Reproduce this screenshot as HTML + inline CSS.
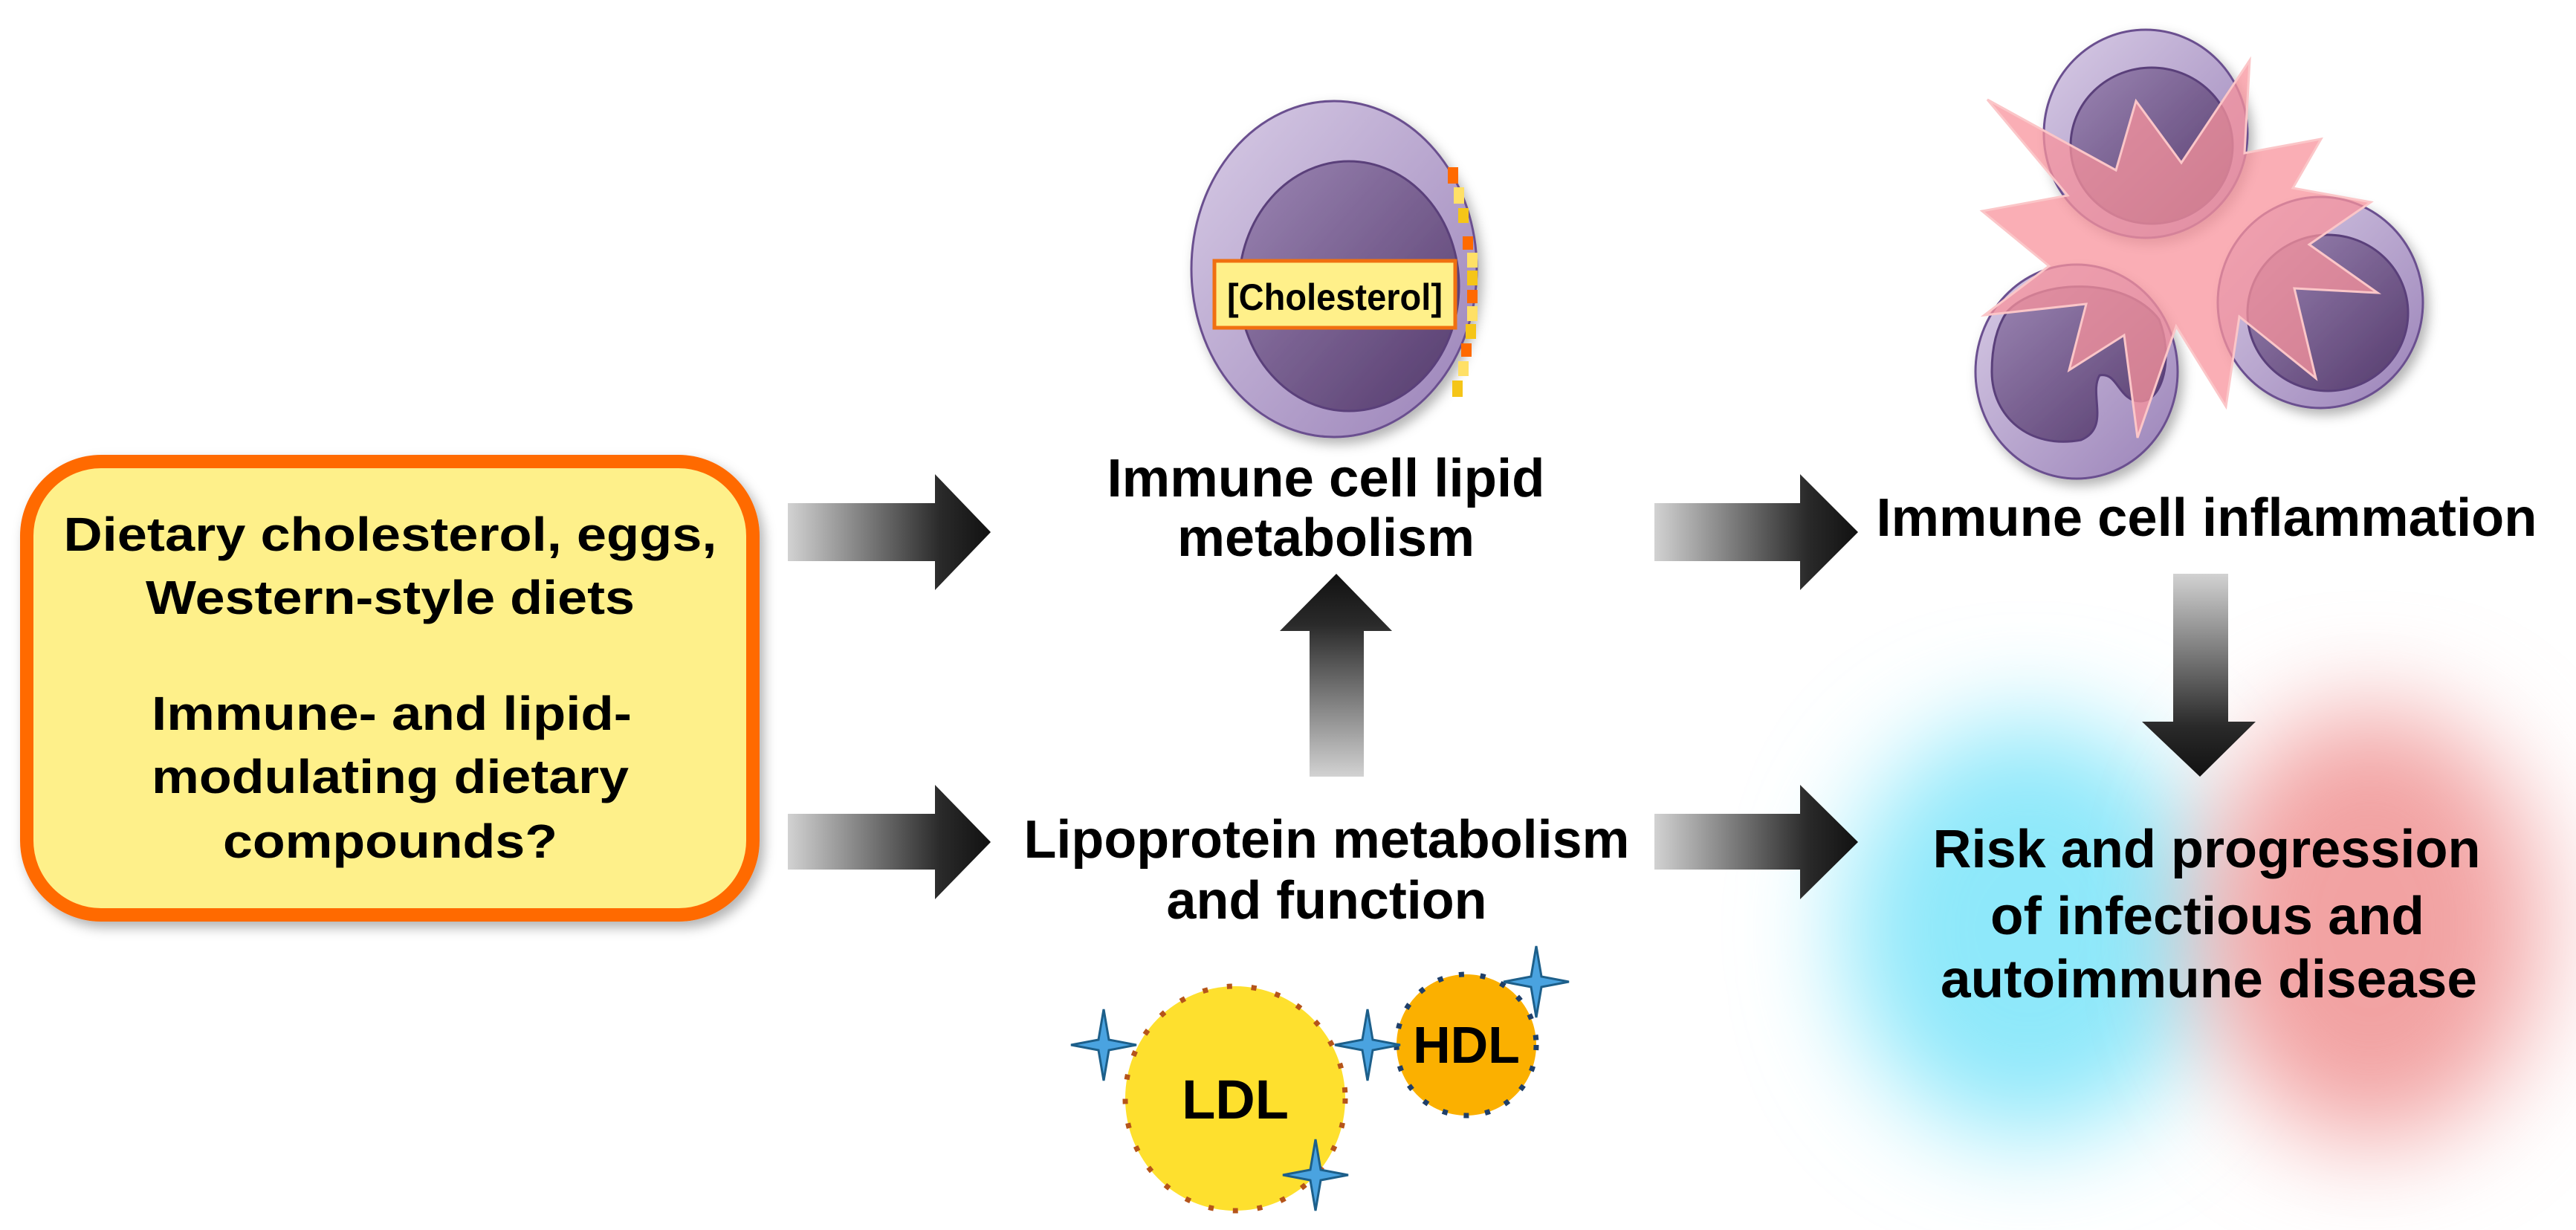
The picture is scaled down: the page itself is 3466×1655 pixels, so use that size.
<!DOCTYPE html>
<html><head><meta charset="utf-8"><style>html,body{margin:0;padding:0;background:#fff}svg{display:block}</style></head>
<body>
<svg width="3466" height="1655" viewBox="0 0 3466 1655" xmlns="http://www.w3.org/2000/svg" font-family="'Liberation Sans', Arial, sans-serif" font-weight="bold">
<defs>
<linearGradient id="gh" x1="0" y1="0" x2="1" y2="0"><stop offset="0" stop-color="#d2d2d2"/><stop offset="0.75" stop-color="#2a2a2a"/><stop offset="1" stop-color="#111"/></linearGradient>
<linearGradient id="gu" x1="0" y1="1" x2="0" y2="0"><stop offset="0" stop-color="#d2d2d2"/><stop offset="0.75" stop-color="#2a2a2a"/><stop offset="1" stop-color="#111"/></linearGradient>
<linearGradient id="gd" x1="0" y1="0" x2="0" y2="1"><stop offset="0" stop-color="#d2d2d2"/><stop offset="0.75" stop-color="#2a2a2a"/><stop offset="1" stop-color="#111"/></linearGradient>
<linearGradient id="cellO" x1="0" y1="0" x2="1" y2="1"><stop offset="0" stop-color="#d8cce6"/><stop offset="1" stop-color="#9a82b8"/></linearGradient>
<linearGradient id="cellN" x1="0" y1="0" x2="1" y2="1"><stop offset="0" stop-color="#9c86b4"/><stop offset="1" stop-color="#543a6c"/></linearGradient>
<filter id="blur" x="-60%" y="-60%" width="220%" height="220%"><feGaussianBlur stdDeviation="70"/></filter>
<filter id="sh" x="-10%" y="-10%" width="120%" height="120%"><feDropShadow dx="6" dy="8" stdDeviation="8" flood-color="#000" flood-opacity="0.3"/></filter>
<path id="star" d="M0,-48 L7,-7 L44,0 L7,7 L0,48 L-7,7 L-44,0 L-7,-7 Z" fill="#4aa3e0" stroke="#1d5f8a" stroke-width="3"/>
</defs>

<!-- blurred blobs -->
<ellipse cx="2730" cy="1250" rx="250" ry="280" fill="#8ee8fa" filter="url(#blur)"/>
<ellipse cx="3190" cy="1245" rx="230" ry="290" fill="#f2a2a2" filter="url(#blur)"/>

<!-- yellow box -->
<rect x="36" y="621" width="977" height="610" rx="100" ry="100" fill="#fef08a" stroke="#ff6a00" stroke-width="18" filter="url(#sh)"/>
<g font-size="64" text-anchor="middle" fill="#000">
<text x="525" y="741" textLength="879" lengthAdjust="spacingAndGlyphs">Dietary cholesterol, eggs,</text>
<text x="525" y="826" textLength="658" lengthAdjust="spacingAndGlyphs">Western-style diets</text>
<text x="527" y="982" textLength="646" lengthAdjust="spacingAndGlyphs">Immune- and lipid-</text>
<text x="525" y="1067" textLength="642" lengthAdjust="spacingAndGlyphs">modulating dietary</text>
<text x="525" y="1154" textLength="450" lengthAdjust="spacingAndGlyphs">compounds?</text>
</g>

<!-- arrows -->
<g>
<polygon points="1060,677 1258,677 1258,638 1333,716 1258,794 1258,755 1060,755" fill="url(#gh)"/>
<polygon points="1060,1095 1258,1095 1258,1056 1333,1133 1258,1210 1258,1170 1060,1170" fill="url(#gh)"/>
<polygon points="2226,677 2422,677 2422,638 2500,716 2422,794 2422,755 2226,755" fill="url(#gh)"/>
<polygon points="2226,1095 2422,1095 2422,1056 2500,1133 2422,1210 2422,1170 2226,1170" fill="url(#gh)"/>
<polygon points="1762,1045 1762,849 1722,849 1798,772 1873,849 1835,849 1835,1045" fill="url(#gu)"/>
<polygon points="2924,772 2998,772 2998,971 3035,971 2960,1045 2882,971 2924,971" fill="url(#gd)"/>
</g>

<!-- labels -->
<g font-size="72" text-anchor="middle" fill="#000">
<text x="1784" y="668" textLength="589" lengthAdjust="spacingAndGlyphs">Immune cell lipid</text>
<text x="1784" y="748" textLength="400" lengthAdjust="spacingAndGlyphs">metabolism</text>
<text x="2969" y="721" textLength="889" lengthAdjust="spacingAndGlyphs">Immune cell inflammation</text>
<text x="1785" y="1154" textLength="815" lengthAdjust="spacingAndGlyphs">Lipoprotein metabolism</text>
<text x="1785" y="1236" textLength="431" lengthAdjust="spacingAndGlyphs">and function</text>
<text x="2969" y="1167" textLength="737" lengthAdjust="spacingAndGlyphs">Risk and progression</text>
<text x="2970" y="1257" textLength="584" lengthAdjust="spacingAndGlyphs">of infectious and</text>
<text x="2972" y="1342" textLength="722" lengthAdjust="spacingAndGlyphs">autoimmune disease</text>
</g>

<!-- immune cell (lipid) -->
<g filter="url(#sh)">
<ellipse cx="1795" cy="362" rx="192" ry="226" fill="url(#cellO)" stroke="#6b4f8f" stroke-width="3"/>
<ellipse cx="1815" cy="385" rx="148" ry="168" fill="url(#cellN)" stroke="#5a3f7a" stroke-width="3"/>
</g>
<g stroke="none">
<rect x="1948" y="225" width="14" height="22" fill="#ff6a00"/>
<rect x="1956" y="252" width="14" height="22" fill="#ffe066"/>
<rect x="1962" y="280" width="14" height="20" fill="#f5c518"/>
<rect x="1968" y="318" width="14" height="18" fill="#ff6a00"/>
<rect x="1974" y="340" width="14" height="20" fill="#ffe066"/>
<rect x="1974" y="364" width="14" height="20" fill="#f5c518"/>
<rect x="1974" y="390" width="14" height="18" fill="#ff6a00"/>
<rect x="1974" y="412" width="14" height="20" fill="#ffe066"/>
<rect x="1972" y="436" width="14" height="20" fill="#f5c518"/>
<rect x="1966" y="462" width="14" height="18" fill="#ff6a00"/>
<rect x="1962" y="486" width="14" height="20" fill="#ffe066"/>
<rect x="1954" y="512" width="14" height="22" fill="#f5c518"/>
</g>
<rect x="1634" y="351" width="324" height="90" fill="#fff08a" stroke="#f07010" stroke-width="5"/>
<text x="1796" y="417" font-size="50" text-anchor="middle" textLength="290" lengthAdjust="spacingAndGlyphs">[Cholesterol]</text>

<!-- inflammation cells -->
<g filter="url(#sh)">
<ellipse cx="2887" cy="180" rx="137" ry="140" fill="url(#cellO)" stroke="#6b4f8f" stroke-width="3"/>
<ellipse cx="2895" cy="196" rx="109" ry="105" fill="url(#cellN)" stroke="#5a3f7a" stroke-width="3"/>
<ellipse cx="2794" cy="500" rx="136" ry="144" fill="url(#cellO)" stroke="#6b4f8f" stroke-width="3"/>
<path d="M2700,420 C2740,375 2860,370 2905,430 C2925,480 2910,540 2880,540 C2850,540 2850,500 2825,505 C2810,530 2840,575 2800,592 C2730,605 2680,560 2680,500 C2680,460 2690,435 2700,420 Z" fill="url(#cellN)" stroke="#5a3f7a" stroke-width="3"/>
<ellipse cx="3122" cy="407" rx="138" ry="142" fill="url(#cellO)" stroke="#6b4f8f" stroke-width="3"/>
<ellipse cx="3132" cy="421" rx="108" ry="105" fill="url(#cellN)" stroke="#5a3f7a" stroke-width="3"/>
</g>
<polygon points="2674,134 2847,229 2874,136 2935,219 3027,81 3020,206 3123,187 3085,253 3190,272 3107,329 3199,394 3087,388 3116,509 3013,426 2995,547 2928,439 2876,589 2858,451 2784,498 2807,409 2670,424 2757,358 2667,284 2782,263" fill="#f8939c" fill-opacity="0.75" stroke="#fbc6c8" stroke-width="3"/>

<!-- LDL / HDL -->
<ellipse cx="1662" cy="1478" rx="148" ry="151" fill="#fee02e" stroke="#b5541a" stroke-width="7" stroke-dasharray="7,26"/>
<text x="1662" y="1505" font-size="74" text-anchor="middle">LDL</text>
<ellipse cx="1973" cy="1406" rx="94" ry="95" fill="#fbb000" stroke="#1f3f6a" stroke-width="7" stroke-dasharray="7,22"/>
<text x="1973" y="1430" font-size="70" text-anchor="middle">HDL</text>
<use href="#star" x="1485" y="1406"/>
<use href="#star" x="1840" y="1406"/>
<use href="#star" x="2067" y="1321"/>
<use href="#star" x="1770" y="1581"/>
</svg>
</body></html>
